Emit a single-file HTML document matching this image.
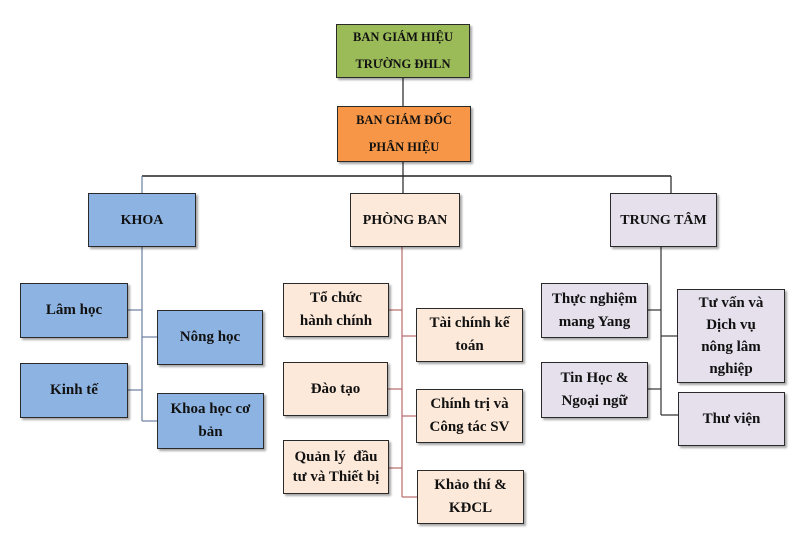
<!DOCTYPE html>
<html><head><meta charset="utf-8"><style>
body{margin:0;width:806px;height:556px;background:#fff;position:relative;overflow:hidden;font-family:"Liberation Serif",serif;font-weight:bold;color:#111}
.b{position:absolute;box-sizing:border-box;border:1.5px solid #2a2a2a;display:flex;align-items:center;justify-content:center;text-align:center;font-size:15px;line-height:23px;box-shadow:2px 2px 2px rgba(0,0,0,.35)}
.t{font-size:12.5px;line-height:27px}
.g{background:#9bbb59}.o{background:#f79646}.bl{background:#8db3e2}.p{background:#fde9d9}.l{background:#e5e0ec}
svg{position:absolute;left:0;top:0}
</style></head><body>
<svg width="806" height="556">
<g stroke="#222" stroke-width="1.2" fill="none">
<line x1="403" y1="78" x2="403" y2="106"/>
<line x1="403" y1="162" x2="403" y2="193"/>
<line x1="142" y1="176" x2="671" y2="176" stroke-width="1.6"/>
<line x1="142" y1="176" x2="142" y2="193" stroke="#6a7fa0"/>
<line x1="671" y1="176" x2="671" y2="193"/>
</g>
<g stroke="#6a7fa0" stroke-width="1.2">
<line x1="142" y1="247" x2="142" y2="421"/>
<line x1="128" y1="310" x2="142" y2="310"/>
<line x1="142" y1="337" x2="157" y2="337"/>
<line x1="128" y1="390" x2="142" y2="390"/>
<line x1="142" y1="421" x2="157" y2="421"/>
</g>
<g stroke="#b86b6b" stroke-width="1.2">
<line x1="402" y1="247" x2="402" y2="497"/>
<line x1="389" y1="310" x2="402" y2="310"/>
<line x1="402" y1="336" x2="416" y2="336"/>
<line x1="388" y1="389" x2="402" y2="389"/>
<line x1="402" y1="416" x2="416" y2="416"/>
<line x1="389" y1="468" x2="402" y2="468"/>
<line x1="402" y1="497" x2="417" y2="497"/>
</g>
<g stroke="#333" stroke-width="1.2">
<line x1="661" y1="247" x2="661" y2="415"/>
<line x1="648" y1="310" x2="661" y2="310"/>
<line x1="661" y1="336" x2="677" y2="336"/>
<line x1="648" y1="389" x2="661" y2="389"/>
<line x1="661" y1="415" x2="678" y2="415"/>
</g>
</svg>
<div class="b g t" style="left:336px;top:24px;width:134px;height:54px">BAN GIÁM HIỆU<br>TRƯỜNG ĐHLN</div>
<div class="b o t" style="left:337px;top:106px;width:134px;height:56px">BAN GIÁM ĐỐC<br>PHÂN HIỆU</div>
<div class="b bl" style="left:88px;top:193px;width:108px;height:54px;font-size:14px">KHOA</div>
<div class="b p" style="left:350px;top:193px;width:110px;height:54px;font-size:14px">PHÒNG BAN</div>
<div class="b l" style="left:610px;top:193px;width:107px;height:54px;font-size:14px">TRUNG TÂM</div>

<div class="b bl" style="left:20px;top:283px;width:108px;height:55px">Lâm học</div>
<div class="b bl" style="left:20px;top:363px;width:108px;height:55px">Kinh tế</div>
<div class="b bl" style="left:157px;top:310px;width:106px;height:55px">Nông học</div>
<div class="b bl" style="left:157px;top:393px;width:107px;height:56px">Khoa học cơ<br>bản</div>

<div class="b p" style="left:283px;top:283px;width:106px;height:54px">Tổ chức<br>hành chính</div>
<div class="b p" style="left:283px;top:362px;width:105px;height:54px">Đào tạo</div>
<div class="b p" style="left:283px;top:440px;width:106px;height:54px;line-height:20px">Quản lý&nbsp; đầu<br>tư và Thiết bị</div>
<div class="b p" style="left:416px;top:308px;width:107px;height:54px">Tài chính kế<br>toán</div>
<div class="b p" style="left:416px;top:389px;width:107px;height:54px">Chính trị và<br>Công tác SV</div>
<div class="b p" style="left:417px;top:470px;width:107px;height:54px">Khảo thí &amp;<br>KĐCL</div>

<div class="b l" style="left:541px;top:283px;width:107px;height:55px">Thực nghiệm<br>mang Yang</div>
<div class="b l" style="left:541px;top:362px;width:107px;height:56px">Tin Học &amp;<br>Ngoại ngữ</div>
<div class="b l" style="left:677px;top:289px;width:108px;height:94px;line-height:22px">Tư vấn và<br>Dịch vụ<br>nông lâm<br>nghiệp</div>
<div class="b l" style="left:678px;top:392px;width:107px;height:54px">Thư viện</div>
</body></html>
